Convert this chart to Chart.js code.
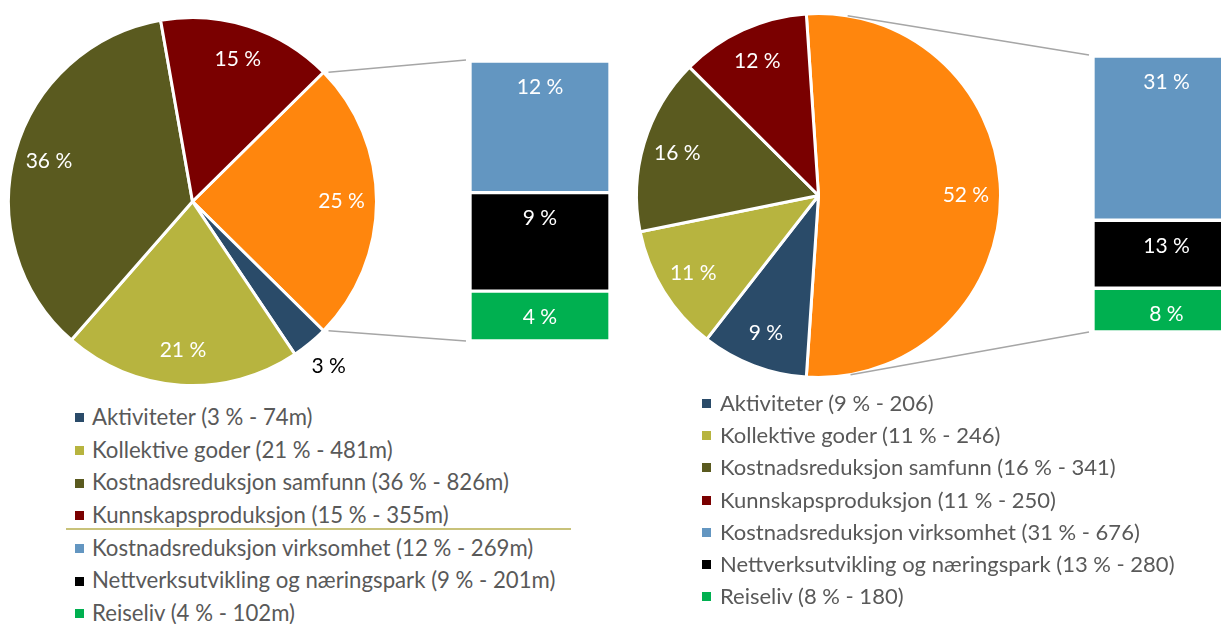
<!DOCTYPE html>
<html>
<head>
<meta charset="utf-8">
<script src="https://cdn.jsdelivr.net/npm/chart.js@4/dist/chart.umd.min.js"></script>
<style>
  html, body { margin: 0; padding: 0; background: #fff; }
  body { width: 1221px; height: 624px; overflow: hidden; position: relative; font-family: Lato, 'Open Sans', sans-serif; }
  canvas { position: absolute; }
  .legend { position: absolute; color: #595959; }
  .legend .row { position: relative; white-space: nowrap; }
  .legend .sq { position: absolute; width: 9px; height: 9px; }
  .sep { position: absolute; height: 2px; background: #C8C27A; }
</style>
</head>
<body>
<canvas id="pieLeft" width="400" height="400" style="left:0;top:0"></canvas>
<canvas id="barLeft" width="320" height="400" style="left:300px;top:0"></canvas>
<canvas id="pieRight" width="420" height="400" style="left:610px;top:0"></canvas>
<canvas id="barRight" width="420" height="400" style="left:820px;top:0"></canvas>
<div id="legendLeft" class="legend" style="left:75px;top:401px;font-size:22.2px"></div>
<div id="legendRight" class="legend" style="left:702px;top:387px;font-size:22px"></div>
<div class="sep" style="left:66px;top:528px;width:505px"></div>
<script>
  const categories = [
    'Aktiviteter',
    'Kollektive goder',
    'Kostnadsreduksjon samfunn',
    'Kunnskapsproduksjon',
    'Kostnadsreduksjon virksomhet',
    'Nettverksutvikling og næringspark',
    'Reiseliv'
  ];
  const colors = ['#2A4B69', '#B7B43F', '#5A5A1F', '#7A0000', '#6396C1', '#000000', '#00B050'];
  const otherColor = '#FF860D';

  // first four categories sit in the pie, the rest are split out in the bar
  const pieCount = 4;

  const leftValues = [74, 481, 826, 355, 269, 201, 102];
  const leftLegendPct = [3, 21, 36, 15, 12, 9, 4];
  const leftLabelPct = [3, 21, 36, 15, 12, 9, 4];
  const leftOtherPct = 25;

  const rightValues = [206, 246, 341, 250, 676, 280, 180];
  const rightLegendPct = [9, 11, 16, 11, 31, 13, 8];
  const rightLabelPct = [9, 11, 16, 12, 31, 13, 8];
  const rightOtherPct = 52;

  const labelFont = '21px Lato, "Open Sans", sans-serif';

  const pieLabels = {
    id: 'pieLabels',
    afterDatasetsDraw(chart) {
      const ctx = chart.ctx;
      const texts = chart.options.plugins.pieLabels.texts;
      const total = chart.data.datasets[0].data.reduce((a, b) => a + b, 0);
      ctx.save();
      ctx.font = labelFont;
      ctx.textAlign = 'center';
      ctx.textBaseline = 'middle';
      chart.getDatasetMeta(0).data.forEach((arc, i) => {
        const small = chart.data.datasets[0].data[i] / total < 0.05;
        const mid = (arc.startAngle + arc.endAngle) / 2;
        const r = arc.outerRadius * (small ? 1.16 : 0.81);
        ctx.fillStyle = small ? '#000' : '#fff';
        ctx.fillText(texts[i], arc.x + Math.cos(mid) * r, arc.y + Math.sin(mid) * r);
      });
      ctx.restore();
    }
  };

  const barLabels = {
    id: 'barLabels',
    afterDatasetsDraw(chart) {
      const ctx = chart.ctx;
      const texts = chart.options.plugins.barLabels.texts;
      ctx.save();
      ctx.font = labelFont;
      ctx.textAlign = 'center';
      ctx.textBaseline = 'middle';
      ctx.fillStyle = '#fff';
      chart.data.datasets.forEach((ds, i) => {
        const bar = chart.getDatasetMeta(i).data[0];
        ctx.fillText(texts[i], bar.x, bar.y + 26);
      });
      ctx.restore();
    }
  };

  // gray lines from the "other" slice to the bar
  const connectors = {
    id: 'connectors',
    afterDraw(chart) {
      const o = chart.options.plugins.connectors;
      const pie = o.pieChart;
      const arc = pie.getDatasetMeta(0).data[0];
      const dx = pie.canvas.offsetLeft - chart.canvas.offsetLeft;
      const dy = pie.canvas.offsetTop - chart.canvas.offsetTop;
      const cx = arc.x + dx, cy = arc.y + dy, r = arc.outerRadius;
      const n = chart.data.datasets.length;
      const topBar = chart.getDatasetMeta(n - 1).data[0];
      const botBar = chart.getDatasetMeta(0).data[0];
      const left = topBar.x - topBar.width / 2 - 4;
      const ends = [[left, topBar.y - 1], [left, botBar.base]];

      let starts;
      if (arc.endAngle - arc.startAngle <= Math.PI) {
        starts = [arc.startAngle, arc.endAngle].map(a => [cx + Math.cos(a) * r + 5, cy + Math.sin(a) * r]);
      } else {
        starts = ends.map(([tx, ty], k) => {
          const d = Math.hypot(tx - cx, ty - cy);
          const phi = Math.atan2(ty - cy, tx - cx);
          const a = phi + (k === 0 ? -1 : 1) * Math.acos(r / d);
          return [cx + Math.cos(a) * r, cy + Math.sin(a) * r];
        });
      }

      const ctx = chart.ctx;
      ctx.save();
      ctx.strokeStyle = '#A6A6A6';
      ctx.lineWidth = 1.5;
      starts.forEach((s, k) => {
        ctx.beginPath();
        ctx.moveTo(s[0], s[1]);
        ctx.lineTo(ends[k][0], ends[k][1]);
        ctx.stroke();
      });
      ctx.restore();
    }
  };

  function drawSide(side) {
    const pieVals = side.values.slice(0, pieCount);
    const barIdx = side.values.map((v, i) => i).slice(pieCount).reverse();
    const other = barIdx.reduce((s, i) => s + side.values[i], 0);
    const total = other + pieVals.reduce((a, b) => a + b, 0);

    const pieChart = new Chart(document.getElementById(side.pieId), {
      type: 'pie',
      data: {
        labels: ['Andre'].concat(categories.slice(0, pieCount)),
        datasets: [{
          data: [other].concat(pieVals),
          backgroundColor: [otherColor].concat(colors.slice(0, pieCount)),
          borderColor: '#fff',
          borderWidth: 3,
          hoverOffset: 0
        }]
      },
      options: {
        responsive: false,
        animation: false,
        rotation: 90 - other / total * 180,
        layout: { padding: side.piePadding },
        plugins: {
          legend: { display: false },
          tooltip: { enabled: false },
          pieLabels: { texts: [side.otherPct + ' %'].concat(side.labelPct.slice(0, pieCount).map(p => p + ' %')) }
        }
      },
      plugins: [pieLabels]
    });

    new Chart(document.getElementById(side.barId), {
      type: 'bar',
      data: {
        labels: [''],
        datasets: barIdx.map(i => ({
          label: categories[i],
          data: [side.values[i]],
          backgroundColor: colors[i],
          borderColor: '#fff',
          borderWidth: 2,
          borderSkipped: false,
          barPercentage: 1,
          categoryPercentage: 1
        }))
      },
      options: {
        responsive: false,
        animation: false,
        layout: { padding: side.barPadding },
        scales: {
          x: { display: false, stacked: true },
          y: { display: false, stacked: true, min: 0, max: other }
        },
        plugins: {
          legend: { display: false },
          tooltip: { enabled: false },
          barLabels: { texts: barIdx.map(i => side.labelPct[i] + ' %') },
          connectors: { pieChart }
        }
      },
      plugins: [barLabels, connectors]
    });

    const legend = document.getElementById(side.legendId);
    categories.forEach((name, i) => {
      const row = document.createElement('div');
      row.className = 'row';
      row.style.height = side.rowHeight + 'px';
      row.style.lineHeight = side.rowHeight + 'px';
      row.style.paddingLeft = side.textIndent + 'px';
      row.innerHTML = '<span class="sq" style="left:0;top:' + (side.rowHeight / 2 - 4) + 'px;background:' + colors[i] + '"></span>';
      row.appendChild(document.createTextNode(name + ' (' + side.legendPct[i] + ' % - ' + side.values[i] + side.unit + ')'));
      legend.appendChild(row);
    });
  }

  drawSide({
    pieId: 'pieLeft', barId: 'barLeft', legendId: 'legendLeft',
    values: leftValues, legendPct: leftLegendPct, labelPct: leftLabelPct, otherPct: leftOtherPct,
    unit: 'm', rowHeight: 32.7, textIndent: 17,
    piePadding: { left: 7, top: 16, right: 22, bottom: 13 },
    barPadding: { left: 170, right: 10, top: 61, bottom: 59 }
  });

  drawSide({
    pieId: 'pieRight', barId: 'barRight', legendId: 'legendRight',
    values: rightValues, legendPct: rightLegendPct, labelPct: rightLabelPct, otherPct: rightOtherPct,
    unit: '', rowHeight: 32.2, textIndent: 18,
    piePadding: { left: 25, top: 12, right: 28, bottom: 21 },
    barPadding: { left: 273, right: -13, top: 56, bottom: 68 }
  });
</script>
</body>
</html>
